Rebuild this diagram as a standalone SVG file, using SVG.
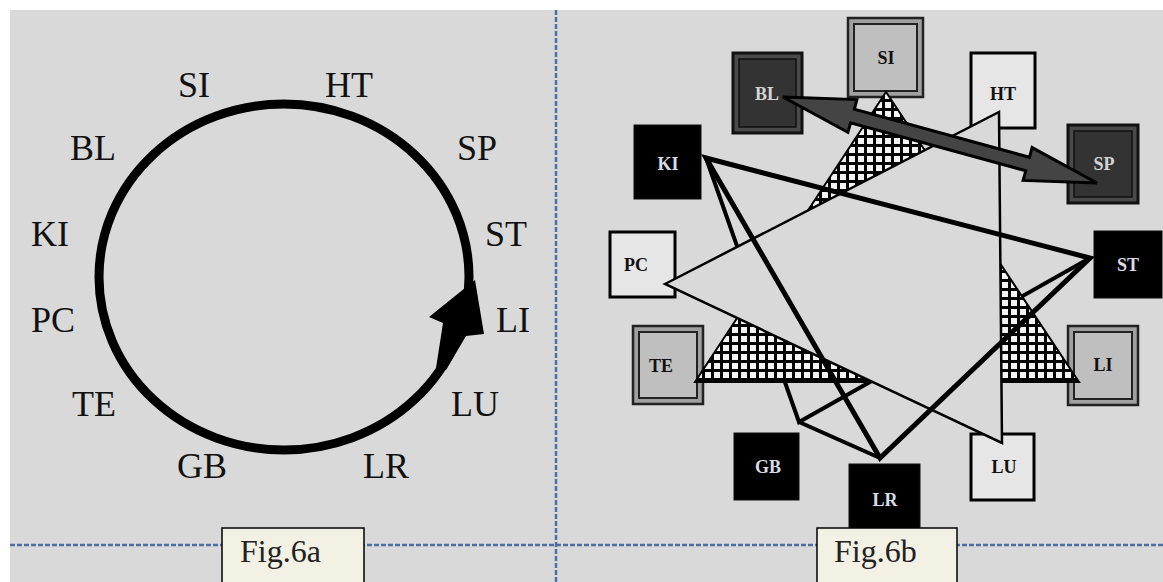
<svg xmlns="http://www.w3.org/2000/svg" width="1163" height="582" viewBox="0 0 1163 582">
<defs>
<style>
.lbl{font-family:"Liberation Serif",serif;font-size:36px;fill:#111}
.nt{font-family:"Liberation Serif",serif;font-size:18px;font-weight:bold;text-anchor:middle}
.dkt{fill:#d4d4d4}
.bkt{fill:#d8dce6}
.lgt{fill:#111}
.dash{stroke:#4d6fa3;stroke-width:2.5;stroke-dasharray:5 2;fill:none}
.dko{fill:#4a4a4a;stroke:#111;stroke-width:3}
.dki{fill:#333;stroke:#111;stroke-width:1.5}
.lto{fill:#a0a0a0;stroke:#222;stroke-width:2.5}
.lti{fill:#bfbfbf;stroke:#222;stroke-width:2}
.bk{fill:#000;stroke:#111;stroke-width:1}
.wh{fill:#e6e6e6;stroke:#000;stroke-width:3}
.figbox{fill:#f3f1e4;stroke:#000;stroke-width:1.5}
.figt{font-family:"Liberation Serif",serif;font-size:32px;fill:#222}
.hid{stroke:#000;stroke-width:4;fill:none;stroke-linecap:round}
.thick{stroke:#000;stroke-width:5;fill:none;stroke-linejoin:miter}
</style>
<pattern id="hatch" patternUnits="userSpaceOnUse" width="9" height="9">
<rect width="9" height="9" fill="#f4f4f4"/>
<rect width="9" height="3" fill="#000"/>
<rect width="3" height="9" fill="#000"/>
</pattern>
</defs>

<rect x="0" y="0" width="1163" height="582" fill="#fff"/>
<rect x="10" y="10" width="1153" height="572" fill="#d9d9d9"/>
<g id="grid-lines">
<line class="dash" x1="556" y1="10" x2="556" y2="582"/>
<line class="dash" x1="10" y1="545" x2="1163" y2="545"/>
</g>

<!-- Fig 6a -->
<g id="cycle-6a">
<ellipse cx="284" cy="277" rx="185" ry="173" fill="none" stroke="#000" stroke-width="9"/>
<polygon points="436,368 446,370 466,336 484,334 475,280 429,317 443,323" fill="#000"/>
</g>
<g id="a-SI"><text class="lbl" x="178" y="97">SI</text></g>
<g id="a-HT"><text class="lbl" x="325" y="97">HT</text></g>
<g id="a-BL"><text class="lbl" x="70" y="160">BL</text></g>
<g id="a-SP"><text class="lbl" x="457" y="160">SP</text></g>
<g id="a-KI"><text class="lbl" x="31" y="246">KI</text></g>
<g id="a-ST"><text class="lbl" x="485" y="246">ST</text></g>
<g id="a-PC"><text class="lbl" x="31" y="332">PC</text></g>
<g id="a-LI"><text class="lbl" x="496" y="332">LI</text></g>
<g id="a-TE"><text class="lbl" x="72" y="416">TE</text></g>
<g id="a-LU"><text class="lbl" x="451" y="416">LU</text></g>
<g id="a-GB"><text class="lbl" x="177" y="478">GB</text></g>
<g id="a-LR"><text class="lbl" x="363" y="478">LR</text></g>

<!-- Fig 6b nodes -->
<g id="b-SI"><rect class="lto" x="848" y="18" width="75" height="79"/><rect class="lti" x="854" y="24" width="63" height="67"/><text class="nt lgt" x="886" y="64">SI</text></g>
<g id="b-HT"><rect class="wh" x="971" y="53" width="64" height="75"/><text class="nt lgt" x="1003" y="100">HT</text></g>
<g id="b-BL"><rect class="dko" x="733" y="53" width="69" height="80"/><rect class="dki" x="739" y="59" width="57" height="68"/><text class="nt dkt" x="767" y="100">BL</text></g>
<g id="b-KI"><rect class="bk" x="634" y="125" width="67" height="74"/><text class="nt bkt" x="668" y="170">KI</text></g>
<g id="b-SP"><rect class="dko" x="1068" y="125" width="70" height="78"/><rect class="dki" x="1074" y="131" width="58" height="66"/><text class="nt dkt" x="1104" y="170">SP</text></g>
<g id="b-PC"><rect class="wh" x="610" y="232" width="65" height="65"/><text class="nt lgt" x="636" y="271">PC</text></g>
<g id="b-ST"><rect class="bk" x="1094" y="231" width="68" height="67"/><text class="nt bkt" x="1128" y="271">ST</text></g>
<g id="b-TE"><rect class="lto" x="633" y="326" width="70" height="78"/><rect class="lti" x="639" y="332" width="58" height="66"/><text class="nt lgt" x="661" y="372">TE</text></g>
<g id="b-LI"><rect class="lto" x="1068" y="326" width="70" height="79"/><rect class="lti" x="1074" y="332" width="58" height="67"/><text class="nt lgt" x="1103" y="371">LI</text></g>
<g id="b-GB"><rect class="bk" x="734" y="433" width="65" height="67"/><text class="nt bkt" x="768" y="473">GB</text></g>
<g id="b-LR"><rect class="bk" x="849" y="464" width="71" height="75"/><text class="nt bkt" x="885" y="506">LR</text></g>
<g id="b-LU"><rect class="wh" x="971" y="434" width="63" height="66"/><text class="nt lgt" x="1004" y="473">LU</text></g>

<!-- Fig 6b connectors -->
<g id="connectors">
<polyline class="hid" points="706,158 799,422 1090,258"/>
<line class="hid" x1="799" y1="422" x2="880" y2="458"/>
<polygon points="886,92 695,382 1079,382" fill="url(#hatch)" stroke="#000" stroke-width="2"/>
<polygon points="665,284 999,112 1002,443" fill="#d9d9d9" stroke="#000" stroke-width="2.5"/>
<polygon class="thick" points="706,158 1090,258 880,458"/>
<polygon points="783,97 856.9,99.6 854.3,109.3 1029.5,157.3 1032.1,147.6 1097,183 1023.1,180.4 1025.8,170.8 850.6,122.8 847.9,132.4" fill="#444" stroke="#000" stroke-width="3" stroke-linejoin="miter"/>
</g>

<g id="fig6a-caption"><rect class="figbox" x="222" y="528" width="142" height="60"/><text class="figt" x="240" y="562">Fig.6a</text></g>
<g id="fig6b-caption"><rect class="figbox" x="817" y="528" width="140" height="60"/><text class="figt" x="834" y="562">Fig.6b</text></g>
</svg>
